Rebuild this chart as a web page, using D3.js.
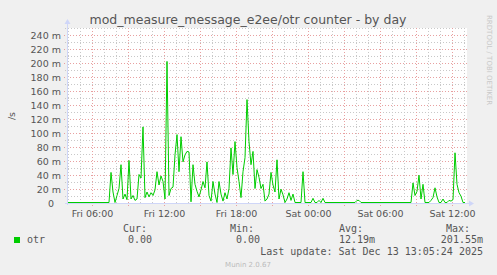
<!DOCTYPE html>
<html>
<head>
<meta charset="utf-8">
<script src="https://cdn.jsdelivr.net/npm/d3@7/dist/d3.min.js"></script>
<style>
  body { margin: 0; background: #f0f0f0; }
  svg { display: block; }
</style>
</head>
<body>
<div id="chart"></div>
<script>
// Chart data
const chartTitle = "mod_measure_message_e2ee/otr counter - by day";
const unitLabel = "/s";
const seriesName = "otr";
const startTime = new Date(2025, 11, 12, 3, 53, 30);
const endTime = new Date(2025, 11, 13, 13, 13, 30);
const stepMinutes = 10;
// otr rate in milli per second, one value per 10 minutes
const otrValues = [
  0, 0, 0, 0, 0, 0, 0, 0, 0, 0,
  0, 0, 0, 0, 0, 0, 0, 0, 0, 0,
  0, 0, 43, 15, 0, 10, 20, 54, 5, 12,
  4, 60, 5, 10, 3, 5, 40, 35, 108, 7,
  15, 8, 14, 10, 18, 44, 25, 38, 30, 5,
  201.55, 10, 20, 22, 68, 97, 44, 94, 58, 68,
  73, 72, 1, 54, 26, 16, 8, 18, 30, 21,
  58, 10, 2, 30, 12, 0, 30, 12, 2, 14,
  5, 20, 78, 40, 87, 50, 30, 7, 44, 64,
  147, 87, 54, 73, 20, 47, 36, 20, 26, 2,
  5, 12, 43, 25, 15, 61, 5, 19, 11, 0,
  5, 14, 3, 12, 0, 0, 0, 0, 44, 0,
  0, 0, 0, 6, 0, 0, 3, 0, 6, 0,
  0, 0, 0, 0, 0, 0, 0, 0, 0, 0,
  0, 0, 0, 0, 0, 3, 3, 0, 0, 0,
  0, 0, 0, 0, 0, 0, 0, 0, 0, 0,
  0, 0, 0, 0, 0, 0, 0, 0, 0, 0,
  0, 0, 0, 28, 10, 16, 39, 5, 26, 0,
  0, 0, 3, 7, 21, 8, 0, 0, 5, 0,
  0, 3, 2, 4, 71, 26, 14, 9, 0, 0
];
const yMax = 250;
const yMajorTicks = [0, 20, 40, 60, 80, 100, 120, 140, 160, 180, 200, 220, 240];
const yMinorTicks = [10, 30, 50, 70, 90, 110, 130, 150, 170, 190, 210, 230, 250];
const xLabelTimes = [
  new Date(2025, 11, 12, 6), new Date(2025, 11, 12, 12), new Date(2025, 11, 12, 18),
  new Date(2025, 11, 13, 0), new Date(2025, 11, 13, 6), new Date(2025, 11, 13, 12)
];
const legendHeads = ["Cur:", "Min:", "Avg:", "Max:"];
const legendValues = ["0.00", "0.00", "12.19m", "201.55m"];
const lastUpdate = "Last update: Sat Dec 13 13:05:24 2025";
const footer = "Munin 2.0.67";
const sideNote = "RRDTOOL / TOBI OETIKER";

const width = 497;
const height = 275;
const plotLeft = 67;
const plotRight = 467;
const plotTop = 28;
const plotBottom = 203;

const data = otrValues.map((v, i) => ({
  time: d3.timeMinute.offset(startTime, i * stepMinutes),
  value: v
}));

const x = d3.scaleTime()
    .domain([startTime, endTime])
    .range([plotLeft, plotRight]);

const y = d3.scaleLinear()
    .domain([0, yMax])
    .range([plotBottom, plotTop]);

const crisp = v => Math.round(v) + 0.5;

const svg = d3.select("#chart").append("svg")
    .attr("width", width)
    .attr("height", height)
    .attr("viewBox", [0, 0, width, height])
    .style("font-family", "'DejaVu Sans', sans-serif");

svg.append("rect")
    .attr("width", width)
    .attr("height", height)
    .attr("fill", "#f0f0f0");

// canvas
svg.append("rect")
    .attr("x", plotLeft)
    .attr("y", plotTop)
    .attr("width", plotRight - plotLeft)
    .attr("height", plotBottom - plotTop)
    .attr("fill", "#ffffff");

const minorColor = "#c8c8c8";
const majorColor = "#e8a0a0";

// hourly minor grid and 3-hour major grid
const hours = d3.timeHour.range(startTime, endTime);
const grid = svg.append("g");

grid.selectAll(".vminor")
  .data(hours.filter(h => h.getHours() % 3 !== 0))
  .join("line")
    .attr("x1", d => crisp(x(d))).attr("x2", d => crisp(x(d)))
    .attr("y1", plotTop).attr("y2", plotBottom + 2)
    .attr("stroke", minorColor)
    .attr("stroke-dasharray", "1,2");

grid.selectAll(".hminor")
  .data(yMinorTicks)
  .join("line")
    .attr("x1", plotLeft - 2).attr("x2", plotRight)
    .attr("y1", d => crisp(y(d))).attr("y2", d => crisp(y(d)))
    .attr("stroke", minorColor)
    .attr("stroke-dasharray", "1,2");

grid.selectAll(".vmajor")
  .data(hours.filter(h => h.getHours() % 3 === 0))
  .join("line")
    .attr("x1", d => crisp(x(d))).attr("x2", d => crisp(x(d)))
    .attr("y1", plotTop).attr("y2", plotBottom + 3)
    .attr("stroke", majorColor)
    .attr("stroke-dasharray", "1,2");

grid.selectAll(".hmajor")
  .data(yMajorTicks.filter(d => d > 0))
  .join("line")
    .attr("x1", plotLeft - 3).attr("x2", plotRight)
    .attr("y1", d => crisp(y(d))).attr("y2", d => crisp(y(d)))
    .attr("stroke", majorColor)
    .attr("stroke-dasharray", "1,2");

// series line
const line = d3.line()
    .x(d => x(d.time))
    .y(d => y(d.value) - 0.5);

svg.append("path")
    .datum(data)
    .attr("fill", "none")
    .attr("stroke", "#00cc00")
    .attr("stroke-width", 1)
    .attr("stroke-linejoin", "round")
    .attr("d", line);

// axes with arrows
const axisColor = "#cfd6f8";
svg.append("line")
    .attr("x1", plotLeft - 2).attr("x2", plotRight + 2)
    .attr("y1", plotBottom + 0.5).attr("y2", plotBottom + 0.5)
    .attr("stroke", axisColor);
svg.append("line")
    .attr("x1", plotLeft + 0.5).attr("x2", plotLeft + 0.5)
    .attr("y1", plotBottom + 2).attr("y2", plotTop - 4)
    .attr("stroke", axisColor);
svg.append("path")
    .attr("d", `M${plotRight + 7},${plotBottom + 0.5}L${plotRight + 2},${plotBottom - 2.5}L${plotRight + 2},${plotBottom + 3.5}Z`)
    .attr("fill", axisColor);
svg.append("path")
    .attr("d", `M${plotLeft + 0.5},${plotTop - 9}L${plotLeft - 2.5},${plotTop - 4}L${plotLeft + 3.5},${plotTop - 4}Z`)
    .attr("fill", axisColor);

// y labels
svg.append("g")
  .selectAll("text")
  .data(yMajorTicks)
  .join("text")
    .attr("x", d => d === 0 ? 54 : 61)
    .attr("y", d => y(d) + 3.5)
    .attr("text-anchor", "end")
    .attr("fill", "#555555")
    .style("font-size", "9.5px")
    .text(d => d === 0 ? "0" : `${d} m`);

// x labels
const fmt = d3.timeFormat("%a %H:%M");
svg.append("g")
  .selectAll("text")
  .data(xLabelTimes)
  .join("text")
    .attr("x", d => crisp(x(d)))
    .attr("y", 217)
    .attr("text-anchor", "middle")
    .attr("fill", "#555555")
    .style("font-size", "9.5px")
    .text(d => fmt(d));

// title and unit
svg.append("text")
    .attr("x", 248)
    .attr("y", 24)
    .attr("text-anchor", "middle")
    .attr("fill", "#555555")
    .style("font-size", "12.5px")
    .text(chartTitle);

svg.append("text")
    .attr("transform", "translate(15,116) rotate(-90)")
    .attr("text-anchor", "middle")
    .attr("fill", "#555555")
    .style("font-size", "9.5px")
    .text(unitLabel);

svg.append("text")
    .attr("transform", "translate(487,15) rotate(90)")
    .attr("fill", "#c8c8c8")
    .style("font-size", "7px")
    .text(sideNote);

// legend
const mono = "'DejaVu Sans Mono', monospace";
const legend = svg.append("g")
    .style("font-family", mono)
    .style("font-size", "10px")
    .attr("fill", "#555555");

legend.append("rect")
    .attr("x", 14).attr("y", 237)
    .attr("width", 6).attr("height", 6)
    .attr("fill", "#00cc00");

legend.append("text").attr("x", 27).attr("y", 243).text(seriesName);

const headPos = [[147, "end"], [254, "end"], [339, "start"], [470, "end"]];
const valuePos = [[152, "end"], [260, "end"], [339, "start"], [483, "end"]];

legend.selectAll(".head")
  .data(legendHeads)
  .join("text")
    .attr("x", (d, i) => headPos[i][0])
    .attr("y", 232)
    .attr("text-anchor", (d, i) => headPos[i][1])
    .text(d => d);

legend.selectAll(".val")
  .data(legendValues)
  .join("text")
    .attr("x", (d, i) => valuePos[i][0])
    .attr("y", 243)
    .attr("text-anchor", (d, i) => valuePos[i][1])
    .text(d => d);

legend.append("text")
    .attr("x", 483).attr("y", 255)
    .attr("text-anchor", "end")
    .text(lastUpdate);

svg.append("text")
    .attr("x", 248).attr("y", 267)
    .attr("text-anchor", "middle")
    .attr("fill", "#bbbbbb")
    .style("font-size", "7px")
    .text(footer);
</script>
</body>
</html>
